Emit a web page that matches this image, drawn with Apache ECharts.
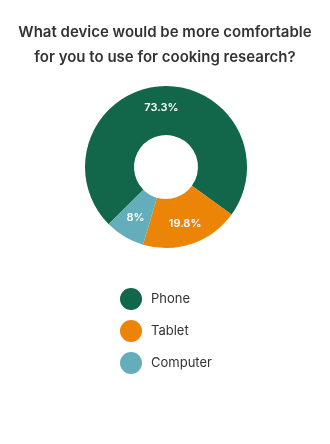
<!DOCTYPE html>
<html>
<head>
<meta charset="utf-8">
<script src="https://cdn.jsdelivr.net/npm/echarts@6/dist/echarts.min.js"></script>
<style>
  html, body { margin: 0; padding: 0; background: #ffffff; }
  #chart { width: 330px; height: 444px; }
</style>
</head>
<body>
<div id="chart"></div>
<script>
// Survey answers: which device is preferred for cooking research
const categories = ['Phone', 'Tablet', 'Computer'];
const shares = [73.3, 19.8, 8];
const colors = ['#12674A', '#EC8407', '#64AEBB'];

const chart = echarts.init(document.getElementById('chart'), null, { renderer: 'canvas' });

chart.setOption({
  animation: false,
  color: colors,
  title: {
    text: 'What device would be more comfortable\nfor you to use for cooking research?',
    left: 'center',
    top: 15,
    textStyle: {
      fontFamily: 'Inter',
      fontSize: 15,
      fontWeight: 600,
      color: '#333333',
      lineHeight: 25
    }
  },
  legend: {
    orient: 'vertical',
    left: 115,
    top: 283,
    icon: 'circle',
    itemWidth: 22,
    itemHeight: 22,
    itemGap: 10,
    selectedMode: false,
    textStyle: {
      fontFamily: 'Inter',
      fontSize: 13,
      color: '#333333',
      padding: [0, 0, 0, 4]
    },
    data: categories
  },
  series: [{
    type: 'pie',
    center: [166, 167],
    radius: [32, 81],
    startAngle: 225,
    clockwise: true,
    avoidLabelOverlap: false,
    itemStyle: { borderWidth: 0 },
    label: {
      show: true,
      position: 'inside',
      formatter: p => p.value + '%',
      color: '#ffffff',
      fontFamily: 'Inter',
      fontSize: 11,
      fontWeight: 600
    },
    labelLine: { show: false },
    emphasis: { disabled: true },
    data: categories.map((name, i) => ({ name, value: shares[i] }))
  }]
});
</script>
</body>
</html>
